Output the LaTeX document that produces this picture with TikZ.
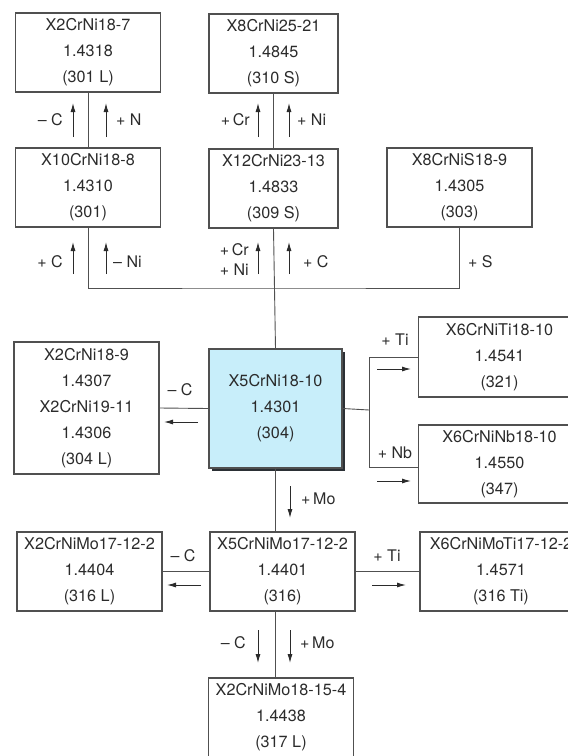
\documentclass[tikz,border=0pt]{standalone}
\usepackage{fontspec}
\setmainfont{TeX Gyre Heros}
\usepackage{tikz}
\usetikzlibrary{arrows.meta,positioning,shadows}

\definecolor{inkgray}{HTML}{2B2B2B}
\definecolor{rulegray}{HTML}{505050}
\definecolor{basefill}{HTML}{C8EEFA}
\definecolor{shadowgray}{HTML}{2B3035}

\tikzset{
  grade/.style={draw=rulegray, line width=1.3pt, align=center, inner sep=0pt,
    minimum width=145pt, minimum height=79pt, text=inkgray,
    font=\fontsize{16.2}{26}\selectfont},
  basegrade/.style={grade, fill=basefill, minimum width=133pt, minimum height=119pt,
    drop shadow={shadow xshift=3pt, shadow yshift=-3pt, fill=shadowgray, opacity=1}},
  note/.style={text=inkgray, inner sep=0pt, font=\fontsize{16}{20}\selectfont},
  link/.style={draw=rulegray, line width=0.9pt},
  trend/.style={draw=inkgray, line width=1pt, -{Latex[length=9pt,width=5pt]}},
}

\begin{document}
\begin{tikzpicture}[x=1pt,y=-1pt]
          \useasboundingbox (0,0) rectangle (568,756);
          \clip (0,0) rectangle (568,756);

          % grades
          \node[grade] (cr18n7) at (88,52.5) {X2CrNi18-7\\1.4318\\(301 L)};
          \node[grade] (cr18n8) at (88,187.5) {X10CrNi18-8\\1.4310\\(301)};
          \node[grade, minimum width=129pt] (cr25n21) at (273.5,53.5) {X8CrNi25-21\\1.4845\\(310 S)};
          \node[grade, minimum width=129pt] (cr23n13) at (273.5,188.5) {X12CrNi23-13\\1.4833\\(309 S)};
          \node[grade] (crns) at (459.5,187.5) {X8CrNiS18-9\\1.4305\\(303)};
          \node[basegrade] (base) at (275.5,408.5) {X5CrNi18-10\\1.4301\\(304)};
          \node[grade, minimum height=132pt] (lowc) at (86.5,408) {X2CrNi18-9\\1.4307\\X2CrNi19-11\\1.4306\\(304 L)};
          \node[grade, minimum width=162pt, minimum height=80pt] (crti) at (499.5,357) {X6CrNiTi18-10\\1.4541\\(321)};
          \node[grade, minimum width=162pt, minimum height=78pt] (crnb) at (499.5,464) {X6CrNiNb18-10\\1.4550\\(347)};
          \node[grade] (molow) at (89.5,571.5) {X2CrNiMo17-12-2\\1.4404\\(316 L)};
          \node[grade] (mo) at (282.5,571.5) {X5CrNiMo17-12-2\\1.4401\\(316)};
          \node[grade, minimum width=162pt] (moti) at (501,571.5) {X6CrNiMoTi17-12-2\\1.4571\\(316 Ti)};
          \node[grade] (mohigh) at (281,717.5) {X2CrNiMo18-15-4\\1.4438\\(317 L)};

          % connectors
          \coordinate (bus) at (274,288);
          \coordinate (split) at (369,410);
          \draw[link] (cr18n7.south) -- (cr18n8.north);
          \draw[link] (cr25n21.south) -- (cr23n13.north);
          \draw[link] (cr18n8.south) |- (bus) -| (crns.south);
          \draw[link] (cr23n13.south) -- (base.north);
          \draw[link] (base.west) -- (lowc.east);
          \draw[link] (base.east) -- (split);
          \draw[link] (split) |- (crti.west);
          \draw[link] (split) |- ([yshift=-3pt]crnb.west);
          \draw[link] (base.south) -- (base.south |- mo.north);
          \draw[link] (mo.west) -- (molow.east);
          \draw[link] (mo.east) -- (moti.west);
          \draw[link] (base.south |- mo.south) -- (base.south |- mohigh.north);

          % alloying hints
          \draw[trend] (73,137) -- (73,103);
          \draw[trend] (106,137) -- (106,103);
          \node[note, anchor=east] (hc1) at (63,120) {– C};
          \node[note, anchor=west] (hn1) at (116,120) {+ N};

          \draw[trend] (258,137) -- (258,103);
          \draw[trend] (289,137) -- (289,103);
          \node[note, anchor=east] (hcr1) at (250,120) {+\,Cr};
          \node[note, anchor=west] (hni1) at (297,120) {+ Ni};

          \draw[trend] (73,274) -- (73,242);
          \draw[trend] (106,274) -- (106,242);
          \node[note, anchor=east] (hc2) at (63,262) {+ C};
          \node[note, anchor=west] (hni2) at (113,262) {– Ni};

          \draw[trend] (258,274) -- (258,242);
          \draw[trend] (289,274) -- (289,242);
          \node[note, anchor=east, align=left] (hcrni) at (249,260) {+\,Cr\\+ Ni};
          \node[note, anchor=west] (hc3) at (303,262) {+ C};
          \node[note, anchor=west] (hs) at (468,262) {+ S};

          \draw[trend] (198,422) -- (164,422);
          \node[note] (hc4) at (180,390) {– C};
          \draw[trend] (377,369) -- (411,369);
          \node[note] (hti1) at (395,340) {+ Ti};
          \draw[trend] (377,481) -- (411,481);
          \node[note] (hnb) at (395,453) {+ Nb};

          \draw[trend] (290,486) -- (290,518);
          \node[note, anchor=west] (hmo1) at (301,499) {+\,Mo};

          \draw[trend] (201,585) -- (167,585);
          \node[note] (hc5) at (183,556) {– C};
          \draw[trend] (372,585) -- (406,585);
          \node[note] (hti2) at (387,556) {+ Ti};

          \draw[trend] (258,630) -- (258,663);
          \draw[trend] (290,630) -- (290,663);
          \node[note, anchor=east] (hc6) at (246,643) {– C};
          \node[note, anchor=west] (hmo2) at (300,643) {+\,Mo};
        \end{tikzpicture}
\end{document}
